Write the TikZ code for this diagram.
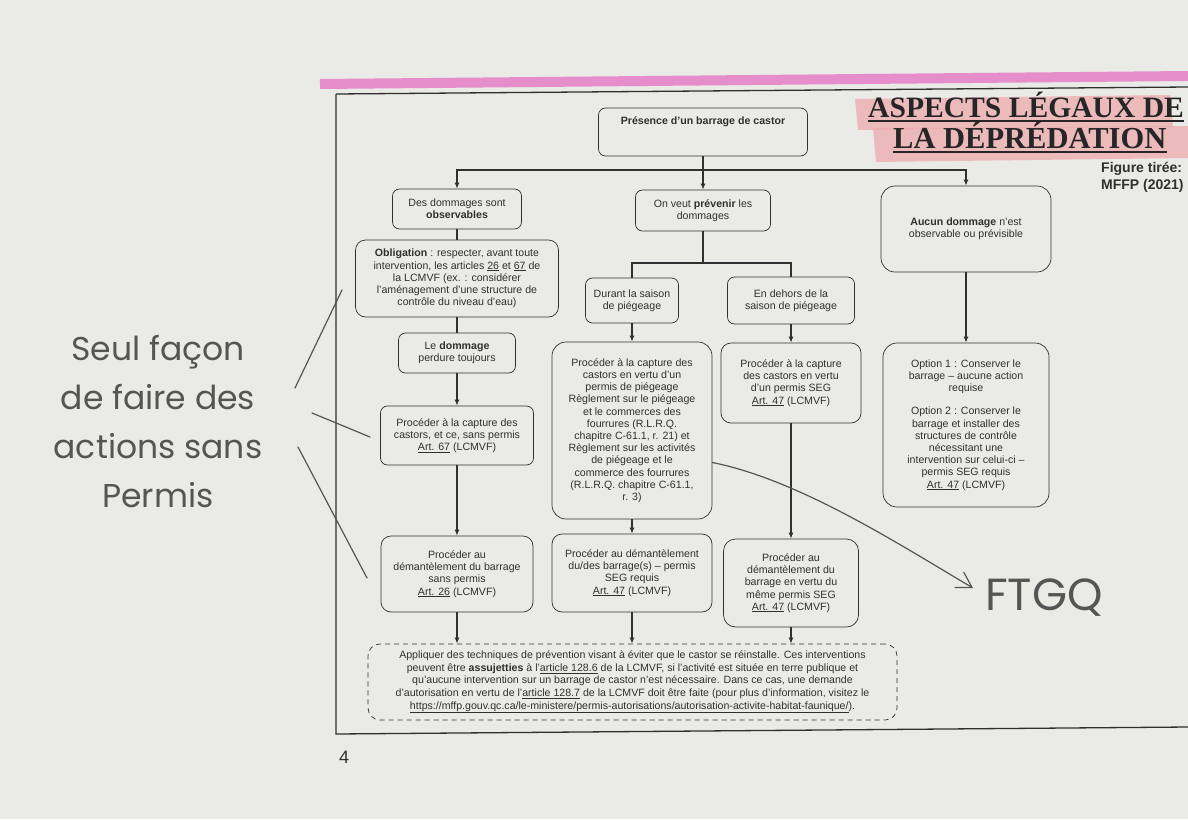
\documentclass[tikz,border=0pt]{standalone}
\usepackage{fontspec}
\setmainfont{Liberation Sans}
\newfontfamily\titrefont{Liberation Serif}
\newfontfamily\plume{Poppins}
\usepackage{xcolor}
\usepackage{tikz}
\usetikzlibrary{arrows.meta, positioning, calc}

\definecolor{papier}{RGB}{234,234,231}
\definecolor{encre}{RGB}{48,48,48}
\definecolor{crayon}{RGB}{85,85,85}
\definecolor{surligneur}{RGB}{228,120,196}
\definecolor{rosepale}{RGB}{238,170,172}

\begin{document}
\begin{tikzpicture}[x=1pt, y=-1pt,
    boite/.style={draw=encre, line width=0.7pt, rounded corners=7pt, align=center,
      text=encre, inner sep=2pt, font=\fontsize{10.6}{12.2}\selectfont},
    grande/.style={boite, rounded corners=14pt},
    fleche/.style={draw=encre, line width=1.5pt, -{Latex[length=6pt,width=5pt]}},
    trait/.style={draw=encre, line width=1.5pt},
    stylo/.style={draw=crayon, line width=1.2pt, line cap=round},
    note/.style={text=crayon, align=center, font=\plume\fontsize{33}{49}\selectfont}
  ]
  \useasboundingbox (0,0) rectangle (1188,819);
  \clip (0,0) rectangle (1188,819);
  \fill[papier] (0,0) rectangle (1188,819);

  % cadre de la page
  \draw[surligneur, line width=10pt, opacity=.8] (320,84) -- (1188,76);
  \draw[encre, line width=1.3pt] (336,94) -- (1188,87);
  \draw[encre, line width=1.3pt] (336,94) -- (336,734) -- (1188,727);

  % titre
  \fill[rosepale, opacity=.75] (855,99) -- (1170,95) -- (1173,127) -- (858,130) -- cycle;
  \fill[rosepale, opacity=.75] (873,128) -- (1188,126) -- (1188,158) -- (876,162) -- cycle;
  \node[anchor=base west, inner sep=0pt, text=black!85, font=\titrefont\bfseries\fontsize{29.6}{32}\selectfont] (titreA) at (868,117) {ASPECTS LÉGAUX DE};
  \node[anchor=base west, inner sep=0pt, text=black!85, font=\titrefont\bfseries\fontsize{30.5}{32}\selectfont] (titreB) at (893,148) {LA DÉPRÉDATION};
  \draw[black!85, line width=2pt] ([yshift=-4pt]titreA.base west) -- ([yshift=-4pt]titreA.base east);
  \draw[black!85, line width=2pt] ([yshift=-4pt]titreB.base west) -- ([yshift=-4pt]titreB.base east);
  \node[anchor=base west, inner sep=0pt, align=left, text=encre, font=\bfseries\fontsize{14}{16.5}\selectfont] (source) at (1101,189) {Figure tirée:\\MFFP (2021)};

  % boites
  \node[boite, minimum width=209pt, minimum height=48pt, text depth=22pt] (haut) at (703,132) {\textbf{Présence d’un barrage de castor}};
  \node[boite, minimum width=129pt, minimum height=40pt] (dommages) at (457,209) {Des dommages sont\\\textbf{observables}};
  \node[boite, minimum width=135pt, minimum height=41pt] (prevenir) at (703,210.5) {On veut \textbf{prévenir} les\\dommages};
  \node[grande, minimum width=170pt, minimum height=86pt] (aucun) at (966,229) {\textbf{Aucun dommage} n’est\\observable ou prévisible};

  \node[boite, rounded corners=10pt, minimum width=203pt, minimum height=77pt] (obligation) at (457,278.5) {\textbf{Obligation} : respecter, avant toute\\intervention, les articles \underline{26} et \underline{67} de\\la LCMVF (ex. : considérer\\l’aménagement d’une structure de\\contrôle du niveau d’eau)};
  \node[boite, minimum width=117pt, minimum height=40pt] (perdure) at (457,353) {Le \textbf{dommage}\\perdure toujours};
  \node[boite, minimum width=153pt, minimum height=59pt] (captureA) at (457,435.5) {Procéder à la capture des\\castors, et ce, sans permis\\\underline{Art. 67} (LCMVF)};

  \node[boite, minimum width=93pt, minimum height=45pt] (durant) at (632,300.5) {Durant la saison\\de piégeage};
  \node[boite, minimum width=127pt, minimum height=47pt] (dehors) at (791,300.5) {En dehors de la\\saison de piégeage};

  \node[grande, minimum width=160pt, minimum height=177pt] (piegeage) at (632,430.5) {Procéder à la capture des\\castors en vertu d’un\\permis de piégeage\\Règlement sur le piégeage\\et le commerces des\\fourrures (R.L.R.Q.\\chapitre C-61.1, r. 21) et\\Règlement sur les activités\\de piégeage et le\\commerce des fourrures\\(R.L.R.Q. chapitre C-61.1,\\r. 3)};
  \node[boite, rounded corners=10pt, minimum width=140pt, minimum height=80pt] (captureSEG) at (791,383) {Procéder à la capture\\des castors en vertu\\d’un permis SEG\\\underline{Art. 47} (LCMVF)};
  \node[grande, minimum width=166pt, minimum height=164pt] (options) at (966,425) {Option 1 : Conserver le\\barrage – aucune action\\requise\\[11pt]Option 2 : Conserver le\\barrage et installer des\\structures de contrôle\\nécessitant une\\intervention sur celui-ci –\\permis SEG requis\\\underline{Art. 47} (LCMVF)};

  \node[boite, rounded corners=10pt, minimum width=152pt, minimum height=76pt] (demA) at (457,574) {Procéder au\\démantèlement du barrage\\sans permis\\\underline{Art. 26} (LCMVF)};
  \node[boite, rounded corners=10pt, minimum width=160pt, minimum height=78pt] (demB) at (632,573) {Procéder au démantèlement\\du/des barrage(s) – permis\\SEG requis\\\underline{Art. 47} (LCMVF)};
  \node[boite, rounded corners=12pt, minimum width=135pt, minimum height=88pt] (demC) at (791,583) {Procéder au\\démantèlement du\\barrage en vertu du\\même permis SEG\\\underline{Art. 47} (LCMVF)};

  \node[boite, dashed, dash pattern=on 5pt off 4pt, rounded corners=12pt, minimum width=529pt, minimum height=76pt,
    font=\fontsize{10.6}{12.6}\selectfont] (prevention) at (632.5,682) {Appliquer des techniques de prévention visant à éviter que le castor se réinstalle. Ces interventions\\peuvent être \textbf{assujetties} à l’\underline{article 128.6} de la LCMVF, si l’activité est située en terre publique et\\qu’aucune intervention sur un barrage de castor n’est nécessaire. Dans ce cas, une demande\\d’autorisation en vertu de l’\underline{article 128.7} de la LCMVF doit être faite (pour plus d’information, visitez le\\\underline{https://mffp.gouv.qc.ca/le-ministere/permis-autorisations/autorisation-activite-habitat-faunique/}).};

  % liens
  \coordinate (barre) at (703,170);
  \coordinate (barre2) at (703,263);
  \draw[trait] (haut.south) -- (barre);
  \draw[fleche] (barre) -| (dommages.north);
  \draw[fleche] (barre) -- (prevenir.north);
  \draw[fleche] (barre) -| (aucun.north);
  \draw[trait] (dommages.south) -- (obligation.north);
  \draw[trait] (obligation.south) -- (perdure.north);
  \draw[fleche] (perdure.south) -- (captureA.north);
  \draw[fleche] (captureA.south) -- (demA.north);
  \draw[trait] (prevenir.south) -- (barre2);
  \draw[trait] (barre2) -| (durant.north);
  \draw[trait] (barre2) -| (dehors.north);
  \draw[fleche] (durant.south) -- (piegeage.north);
  \draw[fleche] (dehors.south) -- (captureSEG.north);
  \draw[fleche] (piegeage.south) -- (demB.north);
  \draw[fleche] (captureSEG.south) -- (demC.north);
  \draw[fleche] (aucun.south) -- (options.north);
  \draw[fleche] (demA.south) -- (demA.south |- prevention.north);
  \draw[fleche] (demB.south) -- (demB.south |- prevention.north);
  \draw[fleche] (demC.south) -- (demC.south |- prevention.north);

  % notes au crayon
  \node[note] (seul) at (158,422) {Seul façon\\de faire des\\actions sans\\Permis};
  \draw[stylo] (295,388) -- (342,290);
  \draw[stylo] (312,413) -- (370,437);
  \draw[stylo] (298,447) -- (367,578);
  \node[text=crayon, font=\plume\fontsize{45}{45}\selectfont, inner sep=0pt, anchor=west] (ftgq) at (985,598) {FTGQ};
  \coordinate (pointe) at (973,588);
  \draw[stylo, -{Straight Barb[length=15pt,width=18pt]}] ([yshift=-32pt]piegeage.east) .. controls (800,480) and (900,545) .. (pointe);

  \node[anchor=base west, inner sep=0pt, text=encre, font=\fontsize{18}{18}\selectfont] (page) at (339,763) {4};
\end{tikzpicture}
\end{document}
